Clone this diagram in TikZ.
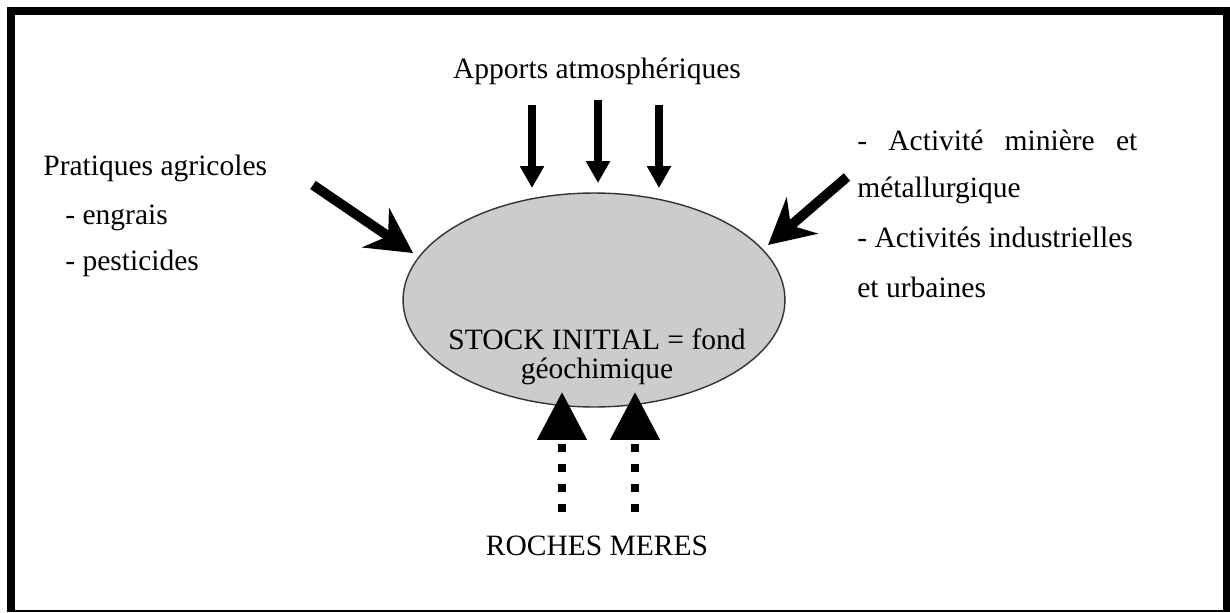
\documentclass[tikz,border=0pt]{standalone}
\usepackage{fontspec}
\setmainfont{Liberation Serif}
\usetikzlibrary{arrows.meta,shapes.geometric}

\tikzset{
  txt/.style={font=\fontsize{16.8}{20}\selectfont, inner sep=0pt},
  airarrow/.style={line width=4pt, -{Triangle[length=0.44cm,width=0.46cm]}},
  sidearrow/.style={line width=5.6pt, -{Stealth[length=0.9cm,width=0.95cm,inset=0.3cm]}},
  rockarrow/.style={line width=4.6pt, dash pattern=on 4.6pt off 6.8pt, -{Triangle[length=0.96cm,width=0.96cm]}},
}

\begin{document}
\begin{tikzpicture}[x=0.02cm, y=-0.02cm]
    \useasboundingbox (0,0) rectangle (1230,612);
    \fill[black] (7,7) rectangle (1230,612);
    \fill[white] (15,15) rectangle (1223,610);

    \node[ellipse, draw=black!80, line width=0.8pt, fill=gray!40, minimum width=7.64cm, minimum height=4.28cm] (stock) at (594,300) {};
    \node[txt, align=center, font=\fontsize{16.8}{16}\selectfont, anchor=base] (stocktext) at (597,378) {STOCK INITIAL = fond\\g\'eochimique};

    \node[txt, anchor=base] (apports) at (597,78) {Apports atmosph\'eriques};
    \node[txt, anchor=base] (roches) at (597,555) {ROCHES MERES};

    \node[txt, anchor=base west] (pratiques) at (43,175) {Pratiques agricoles};
    \node[txt, anchor=base west] (engrais) at (65,224) {- engrais};
    \node[txt, anchor=base west] (pesticides) at (65,270) {- pesticides};

    \node[txt, anchor=base west] (miniere) at (857,150) {\makebox[5.6cm][s]{- Activit\'e minière et}};
    \node[txt, anchor=base west] (metal) at (857,197) {m\'etallurgique};
    \node[txt, anchor=base west] (industrie) at (857,247) {- Activit\'es industrielles};
    \node[txt, anchor=base west] (urbain) at (857,297) {et urbaines};

    \coordinate (a1) at (532,105);  \coordinate (b1) at (532,188);
    \coordinate (a2) at (598,100);  \coordinate (b2) at (598,183);
    \coordinate (a3) at (659,105);  \coordinate (b3) at (659,188);
    \draw[airarrow] (a1) -- (b1);
    \draw[airarrow] (a2) -- (b2);
    \draw[airarrow] (a3) -- (b3);

    \coordinate (agri) at (313,185);  \coordinate (agritip) at (413,253);
    \coordinate (indu) at (847,177);  \coordinate (indutip) at (768,245);
    \draw[sidearrow] (agri) -- (agritip);
    \draw[sidearrow] (indu) -- (indutip);

    \coordinate (r1) at (562,512);  \coordinate (s1) at (562,392);
    \coordinate (r2) at (635,512);  \coordinate (s2) at (635,392);
    \draw[rockarrow] (r1) -- (s1);
    \draw[rockarrow] (r2) -- (s2);
\end{tikzpicture}
\end{document}
